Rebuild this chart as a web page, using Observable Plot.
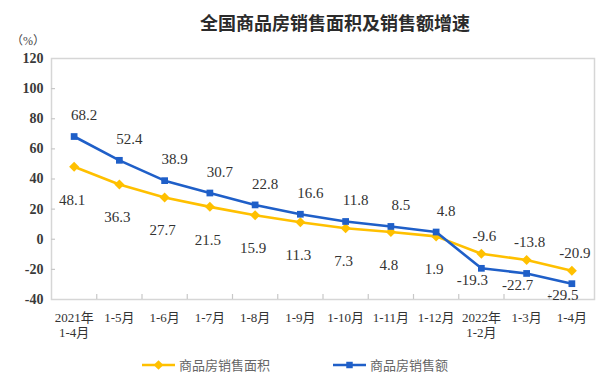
<!DOCTYPE html>
<html>
<head>
<meta charset="utf-8">
<script src="https://cdn.jsdelivr.net/npm/d3@7"></script>
<script src="https://cdn.jsdelivr.net/npm/@observablehq/plot@0.6"></script>
<style>
  body { margin: 0; background: #fff; }
  #wrap { position: relative; width: 605px; height: 388px; overflow: hidden; }
  #wrap svg.chart { position: absolute; left: 0; top: 0; }
  .title { position: absolute; left: 200px; top: 12px; font: bold 18px "Noto Sans CJK SC", sans-serif; color: #2b2b2b; line-height: 20px; white-space: nowrap; }
  .unit { position: absolute; left: 11px; top: 35px; font: 12px "Liberation Serif", "Noto Sans CJK SC", serif; line-height: 13px; color: #444; }
  .leg { position: absolute; top: 355px; display: flex; align-items: center; font: 13px "Noto Sans CJK SC", sans-serif; color: #666; white-space: nowrap; }
</style>
</head>
<body>
<div id="wrap"></div>
<script>
const categories = ["2021年\n1-4月", "1-5月", "1-6月", "1-7月", "1-8月", "1-9月", "1-10月", "1-11月", "1-12月", "2022年\n1-2月", "1-3月", "1-4月"];
const areaGrowth = [48.1, 36.3, 27.7, 21.5, 15.9, 11.3, 7.3, 4.8, 1.9, -9.6, -13.8, -20.9];
const salesGrowth = [68.2, 52.4, 38.9, 30.7, 22.8, 16.6, 11.8, 8.5, 4.8, -19.3, -22.7, -29.5];
const yTicks = [-40, -20, 0, 20, 40, 60, 80, 100, 120];
const seriesNames = ["商品房销售面积", "商品房销售额"];
const colors = ["#FFC000", "#1F5FC8"];

const area = areaGrowth.map((v, i) => ({i, v}));
const sales = salesGrowth.map((v, i) => ({i, v}));
const boundaries = d3.range(categories.length - 1).map(i => i + 0.5);

const serif = "Liberation Serif, Noto Sans CJK SC, serif";
const xPerPx = 12 / 543;   // data units per pixel on x
const yPerPx = 160 / 241;  // data units per pixel on y

const chart = Plot.plot({
  width: 605,
  height: 388,
  marginLeft: 51,
  marginRight: 11,
  marginTop: 58,
  marginBottom: 89,
  style: {fontFamily: serif, background: "transparent"},
  x: {domain: [-0.5, categories.length - 0.5], axis: null},
  y: {domain: [-40, 120], axis: null},
  marks: [
    Plot.frame({stroke: "#d6d6d6", strokeWidth: 1.5}),
    // inward ticks
    Plot.ruleX(boundaries, {x: d => d, y1: -40, y2: -40 + 5 * yPerPx, stroke: "#c8c8c8", strokeWidth: 1.2}),
    Plot.ruleY(yTicks.slice(1, -1), {y: d => d, x1: -0.5, x2: -0.5 + 4 * xPerPx, stroke: "#c8c8c8", strokeWidth: 1.2}),
    Plot.axisY({ticks: yTicks, tickSize: 0, tickPadding: 8, fontSize: 14, fontWeight: "bold", fill: "#3a3a3a", label: null, tickFormat: d => d}),
    Plot.axisX({ticks: d3.range(categories.length), tickSize: 0, tickPadding: 12, fontSize: 13, fill: "#333", lineHeight: 1.15, label: null, tickFormat: i => categories[i]}),
    Plot.line(area, {x: "i", y: "v", stroke: colors[0], strokeWidth: 2.6}),
    Plot.dot(area, {x: "i", y: "v", symbol: "diamond2", r: 4.5, fill: colors[0]}),
    Plot.line(sales, {x: "i", y: "v", stroke: colors[1], strokeWidth: 2.6}),
    Plot.dot(sales, {x: "i", y: "v", symbol: "square", r: 3.8, fill: colors[1]}),
    Plot.text(area.filter(d => d.v >= 0), {x: "i", y: "v", text: d => d.v.toFixed(1), dy: 33, dx: -2, fontSize: 15, fill: "#333"}),
    Plot.text(area.filter(d => d.v < 0), {x: "i", y: "v", text: d => d.v.toFixed(1), dy: -18, dx: 3, fontSize: 15, fill: "#333"}),
    Plot.text(sales.filter(d => d.v >= 0), {x: "i", y: "v", text: d => d.v.toFixed(1), dy: -21, dx: 10, fontSize: 15, fill: "#333"}),
    Plot.text(sales.filter(d => d.v < 0), {x: "i", y: "v", text: d => d.v.toFixed(1), dy: 12, dx: -9, fontSize: 15, fill: "#333"})
  ]
});
chart.classList.add("chart");

const wrap = document.getElementById("wrap");
wrap.appendChild(chart);

const title = document.createElement("div");
title.className = "title";
title.textContent = "全国商品房销售面积及销售额增速";
wrap.appendChild(title);

const unit = document.createElement("div");
unit.className = "unit";
unit.textContent = "（%）";
wrap.appendChild(unit);

const legLeft = [142, 333];
const legSymbols = [d3.symbolDiamond2, d3.symbolSquare];
const legSizes = [60, 42];
seriesNames.forEach((name, k) => {
  const div = document.createElement("div");
  div.className = "leg";
  div.style.left = legLeft[k] + "px";
  const svg = d3.create("svg").attr("width", 34).attr("height", 18).style("margin-right", "3px");
  svg.append("line").attr("x1", 0).attr("x2", 33).attr("y1", 9).attr("y2", 9).attr("stroke", colors[k]).attr("stroke-width", 2.6);
  svg.append("path").attr("d", d3.symbol(legSymbols[k], legSizes[k])()).attr("transform", "translate(16.5,9)").attr("fill", colors[k]);
  div.appendChild(svg.node());
  const span = document.createElement("span");
  span.textContent = name;
  div.appendChild(span);
  wrap.appendChild(div);
});
</script>
</body>
</html>
